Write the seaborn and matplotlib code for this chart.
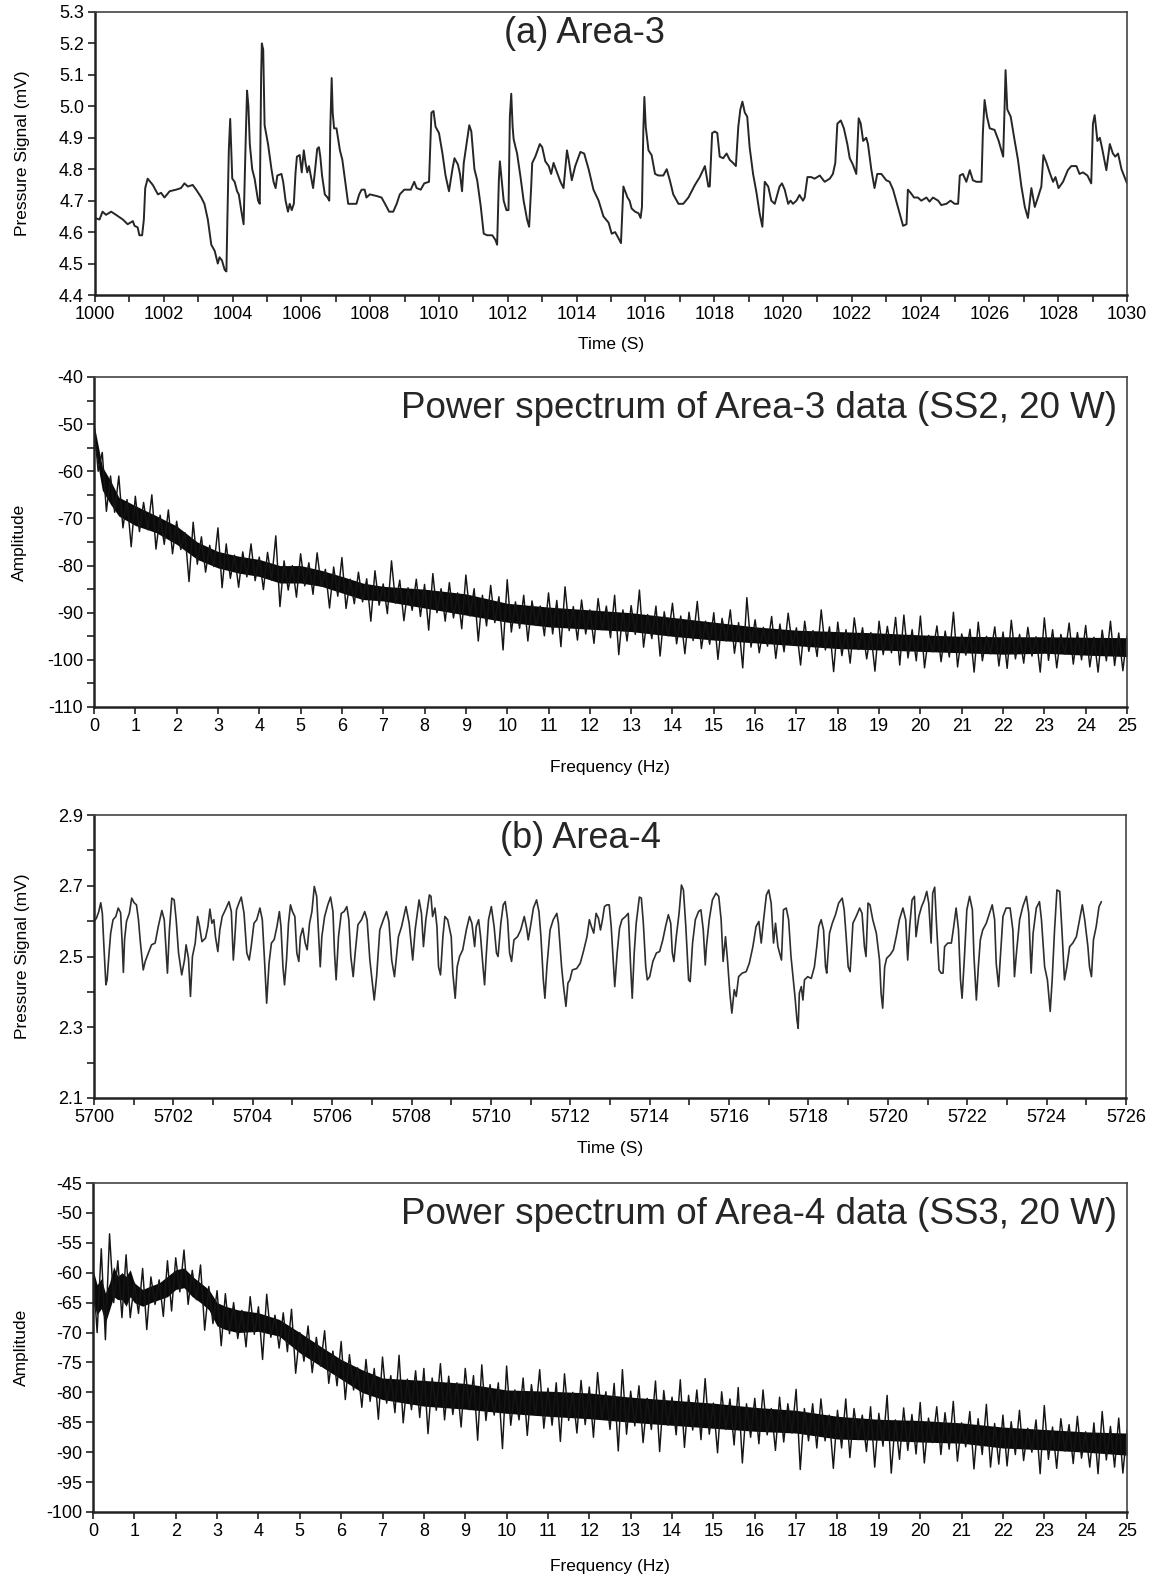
import numpy as np
import matplotlib
matplotlib.use("Agg")
import matplotlib.pyplot as plt
import seaborn as sns
from matplotlib.ticker import MultipleLocator, FixedLocator, FormatStrFormatter

sns.set_theme(style="white")
plt.rcParams['font.family'] = ['Liberation Sans', 'DejaVu Sans']
plt.rcParams['axes.unicode_minus'] = False

# ---------------- data: (a) Area-3 pressure signal (time s, mV) ----------------
area3_trace = [
    (1000.00,4.645),(1000.13,4.64),(1000.22,4.665),(1000.32,4.655),(1000.47,4.665),(1000.61,4.655),
    (1000.81,4.64),(1000.95,4.625),(1001.10,4.635),(1001.15,4.62),(1001.24,4.615),(1001.29,4.59),
    (1001.37,4.59),(1001.42,4.64),(1001.46,4.74),(1001.53,4.77),(1001.68,4.75),(1001.83,4.72),
    (1001.92,4.725),(1002.02,4.71),(1002.17,4.73),(1002.36,4.735),(1002.50,4.74),(1002.60,4.755),
    (1002.70,4.745),(1002.84,4.75),(1002.94,4.735),(1003.09,4.71),(1003.18,4.69),(1003.28,4.64),
    (1003.38,4.56),(1003.48,4.54),(1003.57,4.50),(1003.62,4.52),(1003.69,4.51),(1003.77,4.48),
    (1003.82,4.475),(1003.85,4.65),(1003.89,4.86),(1003.93,4.96),(1003.96,4.86),(1003.99,4.77),
    (1004.06,4.76),(1004.13,4.73),(1004.18,4.72),(1004.25,4.67),(1004.32,4.625),(1004.38,4.89),
    (1004.42,5.05),(1004.46,5.00),(1004.50,4.88),(1004.57,4.80),(1004.64,4.77),(1004.74,4.70),
    (1004.79,4.69),(1004.83,5.10),(1004.85,5.20),(1004.89,5.18),(1004.93,4.94),(1005.03,4.88),
    (1005.13,4.80),(1005.19,4.76),(1005.25,4.74),(1005.30,4.78),(1005.42,4.785),(1005.47,4.76),
    (1005.54,4.70),(1005.61,4.665),(1005.66,4.69),(1005.72,4.67),(1005.78,4.69),(1005.83,4.79),
    (1005.87,4.84),(1005.95,4.845),(1006.01,4.79),(1006.07,4.86),(1006.12,4.82),(1006.17,4.79),
    (1006.22,4.81),(1006.29,4.77),(1006.34,4.74),(1006.40,4.80),(1006.46,4.865),(1006.51,4.87),
    (1006.55,4.84),(1006.60,4.78),(1006.68,4.72),(1006.76,4.71),(1006.81,4.70),(1006.84,4.93),
    (1006.88,5.09),(1006.91,4.98),(1006.95,4.93),(1007.02,4.93),(1007.12,4.86),(1007.19,4.83),
    (1007.31,4.73),(1007.36,4.69),(1007.60,4.69),(1007.68,4.72),(1007.75,4.735),(1007.84,4.735),
    (1007.89,4.71),(1007.99,4.72),(1008.18,4.715),(1008.33,4.71),(1008.48,4.68),(1008.55,4.665),
    (1008.67,4.665),(1008.77,4.69),(1008.86,4.72),
    (1008.99,4.735),(1009.18,4.735),(1009.28,4.76),(1009.35,4.74),(1009.47,4.735),(1009.57,4.755),
    (1009.71,4.76),(1009.78,4.98),(1009.84,4.985),(1009.90,4.935),(1010.00,4.915),(1010.10,4.85),
    (1010.19,4.78),(1010.29,4.73),(1010.39,4.80),(1010.45,4.835),(1010.55,4.815),(1010.61,4.785),
    (1010.67,4.73),(1010.72,4.82),(1010.80,4.88),(1010.88,4.94),(1010.94,4.92),(1011.03,4.80),
    (1011.11,4.765),(1011.21,4.685),(1011.30,4.595),(1011.40,4.59),(1011.55,4.59),(1011.64,4.575),
    (1011.69,4.56),(1011.74,4.765),(1011.77,4.825),(1011.81,4.78),(1011.88,4.70),(1011.96,4.67),
    (1012.02,4.67),(1012.06,4.967),(1012.10,5.04),(1012.14,4.935),(1012.17,4.895),(1012.27,4.85),
    (1012.37,4.775),(1012.46,4.70),(1012.56,4.64),(1012.62,4.617),(1012.68,4.745),(1012.71,4.82),
    (1012.80,4.84),(1012.93,4.88),(1013.00,4.87),(1013.09,4.825),(1013.19,4.81),(1013.26,4.785),
    (1013.33,4.82),(1013.43,4.79),(1013.53,4.76),(1013.62,4.74),(1013.72,4.86),(1013.77,4.83),
    (1013.86,4.765),(1013.96,4.81),(1014.11,4.855),(1014.22,4.85),(1014.35,4.80),(1014.49,4.735),
    (1014.64,4.70),(1014.78,4.65),(1014.93,4.63),(1015.02,4.595),(1015.12,4.60),(1015.22,4.58),
    (1015.29,4.565),(1015.36,4.745),(1015.41,4.73),(1015.48,4.71),(1015.54,4.70),(1015.60,4.675),
    (1015.70,4.665),(1015.80,4.66),(1015.86,4.645),(1015.90,4.68),(1015.94,4.925),(1015.97,5.03),
    (1016.01,4.935),(1016.09,4.86),(1016.18,4.845),(1016.28,4.785),(1016.38,4.78),(1016.52,4.78),
    (1016.62,4.80),(1016.71,4.765),(1016.81,4.72),(1016.96,4.69),(1017.10,4.69),(1017.25,4.71),
    (1017.44,4.75),(1017.58,4.775),(1017.73,4.81),(1017.83,4.745),(1017.87,4.745),(1017.94,4.915),
    (1018.02,4.92),(1018.09,4.915),(1018.16,4.84),(1018.26,4.835),(1018.36,4.85),(1018.45,4.83),
    (1018.55,4.82),(1018.63,4.81),(1018.70,4.935),(1018.76,4.99),(1018.82,5.015),(1018.89,4.98),
    (1018.96,4.967),(1019.03,4.87),(1019.13,4.785),(1019.23,4.725),(1019.32,4.66),(1019.40,4.617),
    (1019.47,4.76),(1019.57,4.745),(1019.66,4.70),(1019.76,4.69),(1019.90,4.745),
    (1019.97,4.755),(1020.05,4.735),(1020.15,4.69),(1020.22,4.70),(1020.29,4.69),(1020.39,4.70),
    (1020.48,4.718),(1020.58,4.70),(1020.63,4.71),(1020.71,4.775),(1020.82,4.775),(1020.92,4.77),
    (1021.07,4.78),(1021.21,4.76),(1021.36,4.77),(1021.45,4.785),(1021.52,4.82),(1021.58,4.945),
    (1021.68,4.955),(1021.77,4.93),(1021.87,4.88),(1021.94,4.835),(1022.03,4.815),(1022.13,4.785),
    (1022.20,4.962),(1022.26,4.945),(1022.33,4.89),(1022.42,4.90),(1022.47,4.88),(1022.57,4.797),
    (1022.66,4.74),(1022.74,4.785),(1022.86,4.785),(1023.00,4.765),(1023.10,4.76),(1023.20,4.735),
    (1023.29,4.70),(1023.39,4.66),(1023.49,4.62),(1023.59,4.625),(1023.63,4.735),(1023.71,4.725),
    (1023.81,4.71),(1023.92,4.71),(1024.02,4.70),(1024.17,4.71),(1024.26,4.697),(1024.36,4.71),
    (1024.51,4.70),(1024.60,4.686),(1024.75,4.69),(1024.87,4.70),(1024.99,4.69),(1025.09,4.69),
    (1025.14,4.78),(1025.23,4.785),(1025.33,4.76),(1025.43,4.797),(1025.52,4.765),(1025.62,4.76),
    (1025.77,4.76),(1025.81,4.915),(1025.86,5.02),(1025.93,4.967),(1026.01,4.93),(1026.15,4.925),
    (1026.27,4.89),(1026.40,4.84),(1026.44,4.99),(1026.47,5.115),(1026.52,4.99),(1026.62,4.967),
    (1026.72,4.90),(1026.83,4.83),(1026.93,4.745),(1027.03,4.68),(1027.12,4.645),(1027.22,4.74),
    (1027.32,4.68),(1027.41,4.71),(1027.51,4.745),(1027.57,4.845),(1027.66,4.82),(1027.75,4.79),
    (1027.85,4.76),(1027.92,4.775),(1028.01,4.74),(1028.14,4.76),(1028.28,4.797),(1028.38,4.81),
    (1028.53,4.81),(1028.62,4.785),(1028.72,4.79),(1028.85,4.78),(1028.96,4.755),(1029.01,4.945),
    (1029.06,4.972),(1029.14,4.89),(1029.21,4.90),(1029.27,4.87),(1029.40,4.797),(1029.50,4.88),
    (1029.59,4.85),(1029.66,4.84),(1029.74,4.85),(1029.84,4.80),(1029.93,4.775),(1030.00,4.755),
]

# ---------------- data: (b) Area-4 pressure signal (time s, mV) ----------------
area4_trace = [
    (5700.00,2.599),(5700.06,2.608),(5700.12,2.627),(5700.17,2.652),(5700.21,2.622),(5700.25,2.528),
    (5700.30,2.42),(5700.33,2.434),(5700.38,2.51),(5700.42,2.566),(5700.48,2.604),(5700.55,2.613),
    (5700.61,2.637),(5700.67,2.624),(5700.71,2.538),(5700.74,2.455),(5700.77,2.548),(5700.82,2.60),
    (5700.89,2.622),(5700.95,2.665),(5701.01,2.652),(5701.07,2.646),(5701.12,2.604),(5701.17,2.538),
    (5701.24,2.462),(5701.29,2.486),(5701.37,2.51),(5701.45,2.533),(5701.54,2.538),(5701.62,2.585),
    (5701.71,2.63),(5701.77,2.604),(5701.82,2.51),(5701.85,2.453),(5701.90,2.575),(5701.96,2.665),
    (5702.02,2.66),(5702.07,2.604),(5702.13,2.51),(5702.21,2.448),(5702.28,2.49),(5702.32,2.533),
    (5702.38,2.495),(5702.43,2.387),(5702.48,2.50),(5702.55,2.538),(5702.61,2.613),(5702.66,2.585),
    (5702.72,2.542),(5702.81,2.552),(5702.87,2.585),(5702.92,2.634),(5702.97,2.594),(5703.02,2.604),
    (5703.06,2.556),(5703.12,2.514),(5703.17,2.575),(5703.23,2.613),(5703.31,2.632),(5703.40,2.655),
    (5703.46,2.627),(5703.51,2.49),(5703.54,2.538),(5703.59,2.632),(5703.65,2.651),(5703.71,2.668),
    (5703.78,2.622),(5703.85,2.51),(5703.91,2.49),(5703.96,2.528),(5704.03,2.594),(5704.10,2.604),
    (5704.18,2.637),(5704.24,2.604),(5704.30,2.481),(5704.35,2.368),(5704.41,2.481),(5704.47,2.538),
    (5704.54,2.548),(5704.61,2.585),(5704.67,2.627),(5704.71,2.585),(5704.76,2.471),(5704.80,2.42),
    (5704.85,2.49),(5704.90,2.594),(5704.95,2.646),(5705.00,2.627),(5705.06,2.613),(5705.11,2.51),
    (5705.16,2.486),(5705.20,2.556),(5705.26,2.58),(5705.32,2.538),(5705.37,2.519),(5705.43,2.594),
    (5705.49,2.627),(5705.55,2.698),(5705.61,2.67),(5705.66,2.556),(5705.70,2.471),(5705.74,2.556),
    (5705.81,2.613),(5705.89,2.646),(5705.96,2.668),(5706.02,2.627),(5706.06,2.51),(5706.10,2.434),
    (5706.16,2.556),(5706.23,2.622),(5706.30,2.627),(5706.37,2.641),(5706.42,2.604),(5706.47,2.50),
    (5706.53,2.443),(5706.58,2.51),(5706.65,2.59),(5706.74,2.604),(5706.82,2.627),(5706.88,2.604),
    (5706.95,2.49),(5707.06,2.377),(5707.12,2.443),(5707.20,2.575),(5707.29,2.604),(5707.37,2.627),
    (5707.43,2.599),(5707.50,2.49),(5707.57,2.443),(5707.67,2.556),(5707.75,2.585),
    (5707.86,2.641),(5707.94,2.594),(5708.03,2.49),(5708.09,2.575),(5708.19,2.66),(5708.25,2.622),
    (5708.30,2.528),(5708.36,2.604),(5708.45,2.674),(5708.49,2.67),(5708.53,2.613),(5708.59,2.637),
    (5708.64,2.585),(5708.68,2.471),(5708.73,2.448),(5708.79,2.556),(5708.84,2.613),(5708.91,2.604),
    (5709.00,2.556),(5709.04,2.453),(5709.10,2.382),(5709.15,2.471),(5709.21,2.50),(5709.29,2.519),
    (5709.38,2.575),(5709.46,2.613),(5709.52,2.594),(5709.59,2.528),(5709.63,2.585),(5709.69,2.604),
    (5709.74,2.556),(5709.80,2.471),(5709.84,2.42),(5709.88,2.50),(5709.94,2.604),(5710.01,2.641),
    (5710.08,2.585),(5710.14,2.51),(5710.18,2.50),(5710.25,2.594),(5710.31,2.646),(5710.36,2.655),
    (5710.42,2.604),(5710.47,2.51),(5710.52,2.486),(5710.58,2.547),(5710.67,2.556),(5710.75,2.575),
    (5710.84,2.613),(5710.90,2.58),(5710.94,2.547),(5711.01,2.594),(5711.07,2.637),(5711.15,2.66),
    (5711.21,2.627),(5711.26,2.556),(5711.32,2.434),(5711.36,2.382),(5711.41,2.471),(5711.49,2.575),
    (5711.57,2.604),(5711.66,2.622),(5711.70,2.594),(5711.78,2.471),(5711.83,2.415),(5711.89,2.359),
    (5711.94,2.425),(5711.99,2.434),(5712.05,2.462),(5712.16,2.466),(5712.25,2.481),(5712.33,2.514),
    (5712.42,2.556),(5712.48,2.604),(5712.53,2.585),(5712.59,2.566),(5712.65,2.622),(5712.71,2.608),
    (5712.76,2.575),(5712.81,2.604),(5712.86,2.641),(5712.92,2.646),(5712.98,2.646),(5713.03,2.585),
    (5713.08,2.49),(5713.12,2.415),(5713.18,2.51),(5713.24,2.58),(5713.30,2.604),(5713.39,2.613),
    (5713.46,2.622),(5713.52,2.471),(5713.56,2.382),(5713.61,2.51),(5713.66,2.594),(5713.74,2.668),
    (5713.79,2.665),(5713.84,2.594),(5713.90,2.471),(5713.94,2.434),(5714.00,2.443),(5714.08,2.486),
    (5714.17,2.51),(5714.25,2.514),(5714.33,2.547),(5714.40,2.585),(5714.47,2.618),(5714.53,2.594),
    (5714.57,2.51),(5714.61,2.486),(5714.67,2.556),(5714.74,2.622),(5714.80,2.702),(5714.85,2.688),
    (5714.91,2.585),(5714.98,2.434),(5715.02,2.429),(5715.08,2.538),(5715.15,2.604),(5715.23,2.627),
    (5715.29,2.632),(5715.35,2.575),(5715.40,2.476),(5715.43,2.528),(5715.50,2.604),(5715.58,2.66),
    (5715.67,2.679),(5715.74,2.67),(5715.80,2.604),(5715.85,2.486),(5715.91,2.556),(5715.96,2.49),
    (5716.02,2.396),(5716.07,2.34),(5716.13,2.406),(5716.18,2.387),(5716.24,2.443),(5716.33,2.453),
    (5716.43,2.457),(5716.51,2.481),(5716.60,2.528),(5716.68,2.585),(5716.75,2.599),(5716.81,2.538),
    (5716.87,2.604),(5716.94,2.674),(5717.00,2.688),(5717.06,2.651),(5717.12,2.538),(5717.17,2.594),
    (5717.23,2.528),(5717.32,2.49),
    (5717.37,2.632),(5717.44,2.637),(5717.50,2.604),(5717.56,2.50),(5717.62,2.434),(5717.66,2.387),
    (5717.71,2.321),(5717.74,2.297),(5717.77,2.396),(5717.82,2.415),(5717.86,2.377),(5717.90,2.434),
    (5717.98,2.443),(5718.07,2.438),(5718.15,2.471),(5718.21,2.528),(5718.26,2.585),(5718.32,2.604),
    (5718.38,2.575),(5718.43,2.471),(5718.46,2.453),(5718.53,2.566),(5718.60,2.594),(5718.68,2.618),
    (5718.76,2.651),(5718.85,2.665),(5718.90,2.632),(5718.95,2.556),(5719.00,2.471),(5719.05,2.457),
    (5719.12,2.594),(5719.20,2.613),(5719.29,2.637),(5719.35,2.622),(5719.41,2.528),(5719.45,2.50),
    (5719.50,2.651),(5719.55,2.646),(5719.62,2.604),(5719.71,2.566),(5719.79,2.49),(5719.83,2.396),
    (5719.87,2.354),(5719.92,2.471),(5719.97,2.495),(5720.06,2.505),(5720.14,2.519),(5720.21,2.556),
    (5720.29,2.604),(5720.38,2.637),(5720.45,2.604),(5720.50,2.49),(5720.55,2.585),(5720.61,2.66),
    (5720.67,2.67),(5720.71,2.556),(5720.78,2.613),(5720.85,2.641),(5720.92,2.66),(5720.98,2.684),
    (5721.03,2.651),(5721.09,2.538),(5721.13,2.679),(5721.18,2.696),(5721.22,2.604),(5721.29,2.462),
    (5721.34,2.453),(5721.39,2.453),(5721.43,2.528),(5721.51,2.538),(5721.60,2.538),(5721.66,2.585),
    (5721.72,2.637),(5721.78,2.575),(5721.83,2.434),(5721.87,2.382),(5721.93,2.50),(5721.99,2.632),
    (5722.06,2.67),(5722.13,2.632),(5722.17,2.50),(5722.23,2.377),(5722.28,2.471),(5722.33,2.547),
    (5722.39,2.575),(5722.48,2.594),(5722.56,2.622),(5722.63,2.646),(5722.69,2.604),(5722.73,2.481),
    (5722.79,2.415),(5722.83,2.49),(5722.90,2.613),(5722.98,2.637),(5723.08,2.637),(5723.15,2.575),
    (5723.19,2.443),(5723.24,2.51),(5723.32,2.604),(5723.40,2.641),(5723.49,2.67),(5723.55,2.622),
    (5723.61,2.453),(5723.66,2.566),(5723.74,2.637),(5723.82,2.655),(5723.87,2.604),(5723.95,2.471),
    (5724.02,2.434),(5724.09,2.345),(5724.14,2.434),(5724.20,2.575),(5724.26,2.688),(5724.33,2.684),
    (5724.39,2.566),(5724.45,2.434),(5724.51,2.471),(5724.58,2.528),(5724.66,2.538),(5724.75,2.556),
    (5724.83,2.604),(5724.90,2.646),(5724.96,2.604),(5725.04,2.528),(5725.08,2.471),(5725.13,2.443),
    (5725.18,2.547),(5725.25,2.585),(5725.32,2.641),(5725.38,2.655),
]

# ---------------- data: power spectra (Hz, dB) ----------------
# dense core of the band (its upper / lower edge)
core3_freq = [0, 0.2, 0.4, 0.6, 1.0, 1.5, 2.0, 2.5, 3.0, 3.5, 4.0, 4.5, 5.0, 5.5, 6.0, 6.5, 7.0,
              8, 9, 10, 11, 12, 13, 14, 15, 16, 17, 18, 19, 20, 21, 22, 23, 24, 25]
core3_top = [-50, -59, -62, -65.5, -67.3, -69.4, -71.6, -75, -77, -78, -78.7, -80, -80, -81, -82.3, -83.7, -84.4,
             -85, -86, -88, -88.8, -89.4, -90, -91, -92, -93, -93.7, -94, -94.3, -94.7, -95, -95.1, -95.1, -95.2, -95.3]
core3_bot = [-54, -64, -67, -69.5, -71.5, -73, -75.5, -78.7, -80.5, -81.6, -82.3, -83.7, -83.7, -84.4, -85.8, -87.2, -87.5,
             -89, -90.5, -92, -93, -93.5, -94, -95, -95.8, -96.4, -97, -97.6, -97.9, -98.2, -98.5, -98.8, -98.6, -99, -99.3]
# spike extremes: peaks at 0, 0.2, ... 25 Hz and troughs at 0.1, 0.3, ... 24.9 Hz
spec3_peaks = [-50, -56, -61, -61, -66, -65.3, -66.6, -65, -69.3, -68.2,
               -70.6, -73, -70.8, -73.9, -75.7, -72, -75.4, -77.8, -77.1, -75.4,
               -78.2, -77.2, -73.7, -79, -80, -77.5, -79.4, -77.3, -80.8, -80.3,
               -78.3, -82.9, -81.4, -82.8, -81.1, -83.9, -79, -83.1, -84.7, -82.9,
               -84, -81.7, -84.9, -83.6, -85.8, -82, -84.9, -86.3, -84.2, -86.6,
               -83, -87.7, -86.3, -87.5, -88.6, -85.8, -87.4, -84.5, -88.7, -87.3,
               -89.4, -87, -88.6, -86.3, -89.4, -88.5, -85.2, -90.4, -88.6, -89.8,
               -88, -90.7, -89.9, -87.6, -91.8, -90, -91.2, -89.4, -92.1, -86.8,
               -91.5, -93.1, -90.8, -92.4, -90.1, -93.2, -91.8, -93.8, -89.4, -93,
               -92, -93.6, -91.1, -93.2, -94.2, -91.8, -92.9, -91, -90.5, -93.6,
               -90.7, -94.8, -92.8, -93.9, -89.9, -94.5, -93.5, -92, -95, -93,
               -94.1, -91.6, -94.6, -93.1, -95.1, -91.1, -93.6, -94.6, -92.2, -94.2,
               -92.7, -95.2, -93.7, -91.8, -94.3, -94.8]
spec3_troughs = [-60, -68.5, -68.7, -72, -76, -72.8, -72.4, -76.5, -75.5, -77.5,
                 -76.6, -83.4, -79.7, -81.4, -80.2, -84.7, -82.7, -84.6, -82.4, -83.2,
                 -85.1, -83.1, -88.7, -85.2, -86.7, -84.3, -86.1, -84.4, -89, -86.5,
                 -89.1, -88.1, -87.7, -91.8, -88.4, -90.2, -88, -91.7, -89.5, -90.8,
                 -93.7, -90, -91.8, -91.1, -93.4, -90.7, -96, -92.8, -92.1, -97.9,
                 -94.1, -93.3, -96, -92.7, -94.9, -94.5, -97.2, -93.8, -95.8, -94.5,
                 -96.5, -93.6, -95.3, -98.9, -96, -94.6, -97.3, -95.5, -99.2, -94.9,
                 -96.6, -98.7, -95.9, -97.6, -96.7, -99.9, -96, -98.6, -101.7, -97.3,
                 -98.5, -97.1, -99.7, -98.3, -96.9, -101.1, -98.2, -99.3, -97.9, -102.5,
                 -99.1, -100.7, -97.8, -99.8, -102.4, -98.9, -98.5, -101.1, -99.6, -100.2,
                 -101.7, -98.3, -100.4, -99.4, -101.5, -99, -102.6, -100.2, -98.7, -101.3,
                 -101.8, -99.8, -100.7, -99.2, -102.6, -100.1, -101.7, -98.8, -100.9, -100,
                 -101.5, -102.6, -100.2, -101.2, -102.3]

core4_freq = [0, 0.1, 0.2, 0.3, 0.4, 0.5, 0.6, 0.7, 0.8, 0.9, 1.0, 1.2, 1.4, 1.6, 1.8, 2.0, 2.2, 2.4, 2.6, 2.8,
              3.0, 3.2, 3.5, 4.0, 4.5, 5.0, 5.5, 6.0, 6.5, 7.0, 8, 9, 10, 11, 12, 13, 14, 15, 16, 17, 18, 19,
              20, 21, 22, 23, 24, 25]
core4_top = [-59.5, -62, -61, -63.4, -61.7, -59, -60.6, -60, -60.6, -59.5, -61.7, -62.8, -62.2, -61.7, -60.6,
             -59.5, -59.2, -60.6, -61.7, -62.8, -65, -65.6, -66.2, -66.7, -67.8, -70, -72.3, -74.5, -76.2, -77.6,
             -78, -78.5, -79.6, -79.8, -80.1, -80.8, -81.3, -81.8, -82.5, -83, -84, -84.5, -84.7, -85.1, -85.8,
             -86.2, -86.6, -86.8]
core4_bot = [-65, -67, -66, -68.4, -66.2, -64, -64.5, -64.5, -65.6, -64, -65, -65.6, -65, -64.5, -64,
             -62.8, -62.5, -64, -65, -66.2, -68.9, -69.5, -70, -69.8, -70.6, -73.4, -75.6, -77.8, -80, -81.2,
             -82.3, -82.8, -83.5, -84, -84.4, -85, -85.5, -86, -86.5, -86.8, -87.8, -88, -88.3, -88.5, -89.3,
             -89.6, -90, -90.5]
spec4_peaks = [-59.5, -56, -53.5, -58, -57, -61.7, -59.3, -60.7, -61.2, -58,
               -57.5, -56.2, -59.6, -58.7, -62.3, -63, -63.5, -65, -66.3, -64,
               -65.7, -63.6, -67.1, -66.7, -66.1, -70, -68.9, -70.8, -69.7, -73.1,
               -71.5, -73.7, -75.9, -74.5, -76, -74.1, -77.2, -73.8, -77.8, -76.4,
               -76, -77.6, -75.2, -77.3, -78.4, -76, -77.2, -75.4, -78.7, -78.4,
               -75.6, -79.6, -77.6, -78.7, -76.2, -79.3, -78.4, -76.9, -80, -78,
               -79.1, -76.7, -79.9, -78.5, -76.2, -79.8, -78.9, -81, -78.1, -79.7,
               -80.8, -77.9, -80.5, -79.6, -77.7, -81.8, -79.9, -81.1, -79.2, -81.9,
               -81, -79.6, -82.7, -80.8, -81.9, -79.5, -82.7, -81.9, -81.1, -83.8,
               -83, -81.1, -82.7, -83.8, -82.4, -83.5, -80.5, -84.6, -82.6, -83.7,
               -81.7, -84.3, -82.4, -83.4, -81.5, -85.1, -83.2, -84.4, -82, -85.2,
               -83.8, -84.9, -83, -86, -84.6, -82.2, -85.8, -84.4, -85.4, -84,
               -86.6, -85.1, -83.2, -85.7, -84.3, -86.3]
spec4_troughs = [-70, -71.2, -65, -67.5, -67.5, -66.8, -69.5, -65.3, -67.3, -66.4,
                 -63.2, -65.3, -64.5, -69.6, -68.5, -72.2, -70.2, -71, -72.4, -70.3,
                 -74.5, -70.8, -72.6, -73.2, -76.8, -74.8, -76.7, -75.6, -78.5, -78.9,
                 -81.2, -79.6, -82.5, -81.5, -84.5, -81.8, -83.4, -85.1, -82.9, -84.2,
                 -86.9, -83, -84.6, -83.7, -85.8, -82.9, -88, -84.7, -83.8, -89.4,
                 -85.5, -84.6, -87.2, -83.8, -86, -85.5, -88.2, -84.7, -86.8, -85.4,
                 -87.5, -84.5, -86.2, -89.8, -87, -85.6, -88.4, -86.2, -89.9, -85.5,
                 -87.1, -89.2, -86.3, -87.9, -87, -90.1, -86.2, -88.8, -91.8, -87.5,
                 -88.6, -87.1, -89.7, -88.3, -86.8, -92.9, -88.1, -89.3, -88.1, -92.7,
                 -89.3, -90.9, -87.9, -89.9, -92.5, -89, -93.5, -91.2, -89.7, -90.3,
                 -91.8, -88.4, -90.4, -89.5, -91.5, -89.1, -92.8, -90.4, -92.5, -92,
                 -92.3, -90.4, -91.4, -90, -93.6, -91.2, -92.7, -89.8, -91.9, -91,
                 -92.5, -93.6, -91.3, -92.5, -93.5]

spec_freq = np.round(np.arange(251) * 0.1, 1)


def interleave(peaks, troughs):
    v = np.empty(len(peaks) + len(troughs))
    v[0::2] = peaks
    v[1::2] = troughs
    return v


# ---------------- figure ----------------
W, H = 1152, 1579
fig = plt.figure(figsize=(W / 100, H / 100), dpi=100)


def add_ax(l, r, t, b):
    return fig.add_axes([l / W, 1 - b / H, (r - l) / W, (b - t) / H])


ax1 = add_ax(95, 1127, 12, 295)
ax2 = add_ax(94, 1127, 377, 707)
ax3 = add_ax(94, 1126, 815, 1098)
ax4 = add_ax(93, 1127, 1183, 1512)


def style(ax):
    for s in ['left', 'bottom']:
        ax.spines[s].set_linewidth(1.8)
        ax.spines[s].set_color('#222222')
    for s in ['top', 'right']:
        ax.spines[s].set_linewidth(1.2)
        ax.spines[s].set_color('#444444')
        ax.spines[s].set_visible(True)
    ax.tick_params(which='both', direction='out', length=5, width=1.3, color='#333333',
                   labelsize=13, labelcolor='black', pad=3,
                   left=True, bottom=True, top=False, right=False)
    ax.set_xlabel('')
    ax.set_ylabel('')


# (a) Area-3 time series
t1, v1 = zip(*area3_trace)
sns.lineplot(x=list(t1), y=list(v1), ax=ax1, color='#262626', linewidth=1.4, estimator=None, sort=False)
ax1.set_xlim(1000, 1030)
ax1.set_ylim(4.4, 5.3)
ax1.xaxis.set_major_locator(MultipleLocator(2))
ax1.xaxis.set_minor_locator(MultipleLocator(1))
ax1.yaxis.set_major_locator(MultipleLocator(0.1))
ax1.yaxis.set_major_formatter(FormatStrFormatter('%.1f'))
style(ax1)
ax1.text(0.474, 0.890, '(a) Area-3', transform=ax1.transAxes, ha='center', va='baseline', fontsize=26)

# Area-3 power spectrum
ax2.fill_between(core3_freq, core3_bot, core3_top, color='#0a0a0a', linewidth=0)
sns.lineplot(x=spec_freq, y=interleave(spec3_peaks, spec3_troughs), ax=ax2, color='#151515',
             linewidth=1.05, estimator=None, sort=False)
ax2.set_xlim(0, 25)
ax2.set_ylim(-110, -40)
ax2.xaxis.set_major_locator(MultipleLocator(1))
ax2.yaxis.set_major_locator(MultipleLocator(10))
ax2.yaxis.set_minor_locator(MultipleLocator(5))
ax2.yaxis.set_major_formatter(FormatStrFormatter('%d'))
style(ax2)
ax2.text(0.990, 0.876, 'Power spectrum of Area-3 data (SS2, 20 W)', transform=ax2.transAxes,
         ha='right', va='baseline', fontsize=26.5)

# (b) Area-4 time series
t3, v3 = zip(*area4_trace)
sns.lineplot(x=list(t3), y=list(v3), ax=ax3, color='#2e2e2e', linewidth=1.2, estimator=None, sort=False)
ax3.set_xlim(5700, 5726)
ax3.set_ylim(2.1, 2.9)
ax3.xaxis.set_major_locator(MultipleLocator(2))
ax3.xaxis.set_minor_locator(MultipleLocator(1))
ax3.yaxis.set_major_locator(FixedLocator([2.1, 2.3, 2.5, 2.7, 2.9]))
ax3.yaxis.set_minor_locator(FixedLocator([2.2, 2.4, 2.6, 2.8]))
ax3.yaxis.set_major_formatter(FormatStrFormatter('%.1f'))
style(ax3)
ax3.text(0.471, 0.883, '(b) Area-4', transform=ax3.transAxes, ha='center', va='baseline', fontsize=26)

# Area-4 power spectrum
ax4.fill_between(core4_freq, core4_bot, core4_top, color='#0a0a0a', linewidth=0)
sns.lineplot(x=spec_freq, y=interleave(spec4_peaks, spec4_troughs), ax=ax4, color='#151515',
             linewidth=1.05, estimator=None, sort=False)
ax4.set_xlim(0, 25)
ax4.set_ylim(-100, -45)
ax4.xaxis.set_major_locator(MultipleLocator(1))
ax4.yaxis.set_major_locator(MultipleLocator(5))
ax4.yaxis.set_major_formatter(FormatStrFormatter('%d'))
style(ax4)
ax4.text(0.990, 0.875, 'Power spectrum of Area-4 data (SS3, 20 W)', transform=ax4.transAxes,
         ha='right', va='baseline', fontsize=26.5)

# axis labels
lab = dict(fontsize=12.5, color='black', ha='center', va='center')
fig.text(611 / W, 1 - 345 / H, 'Time (S)', **lab)
fig.text(610 / W, 1 - 767 / H, 'Frequency (Hz)', **lab)
fig.text(610 / W, 1 - 1148 / H, 'Time (S)', **lab)
fig.text(610 / W, 1 - 1567 / H, 'Frequency (Hz)', **lab)
fig.text(23 / W, 1 - 153 / H, 'Pressure Signal (mV)', rotation=90, **lab)
fig.text(19 / W, 1 - 542 / H, 'Amplitude', rotation=90, **lab)
fig.text(23 / W, 1 - 956 / H, 'Pressure Signal (mV)', rotation=90, **lab)
fig.text(21 / W, 1 - 1347 / H, 'Amplitude', rotation=90, **lab)

fig.savefig('out.png', dpi=100, facecolor='white')
